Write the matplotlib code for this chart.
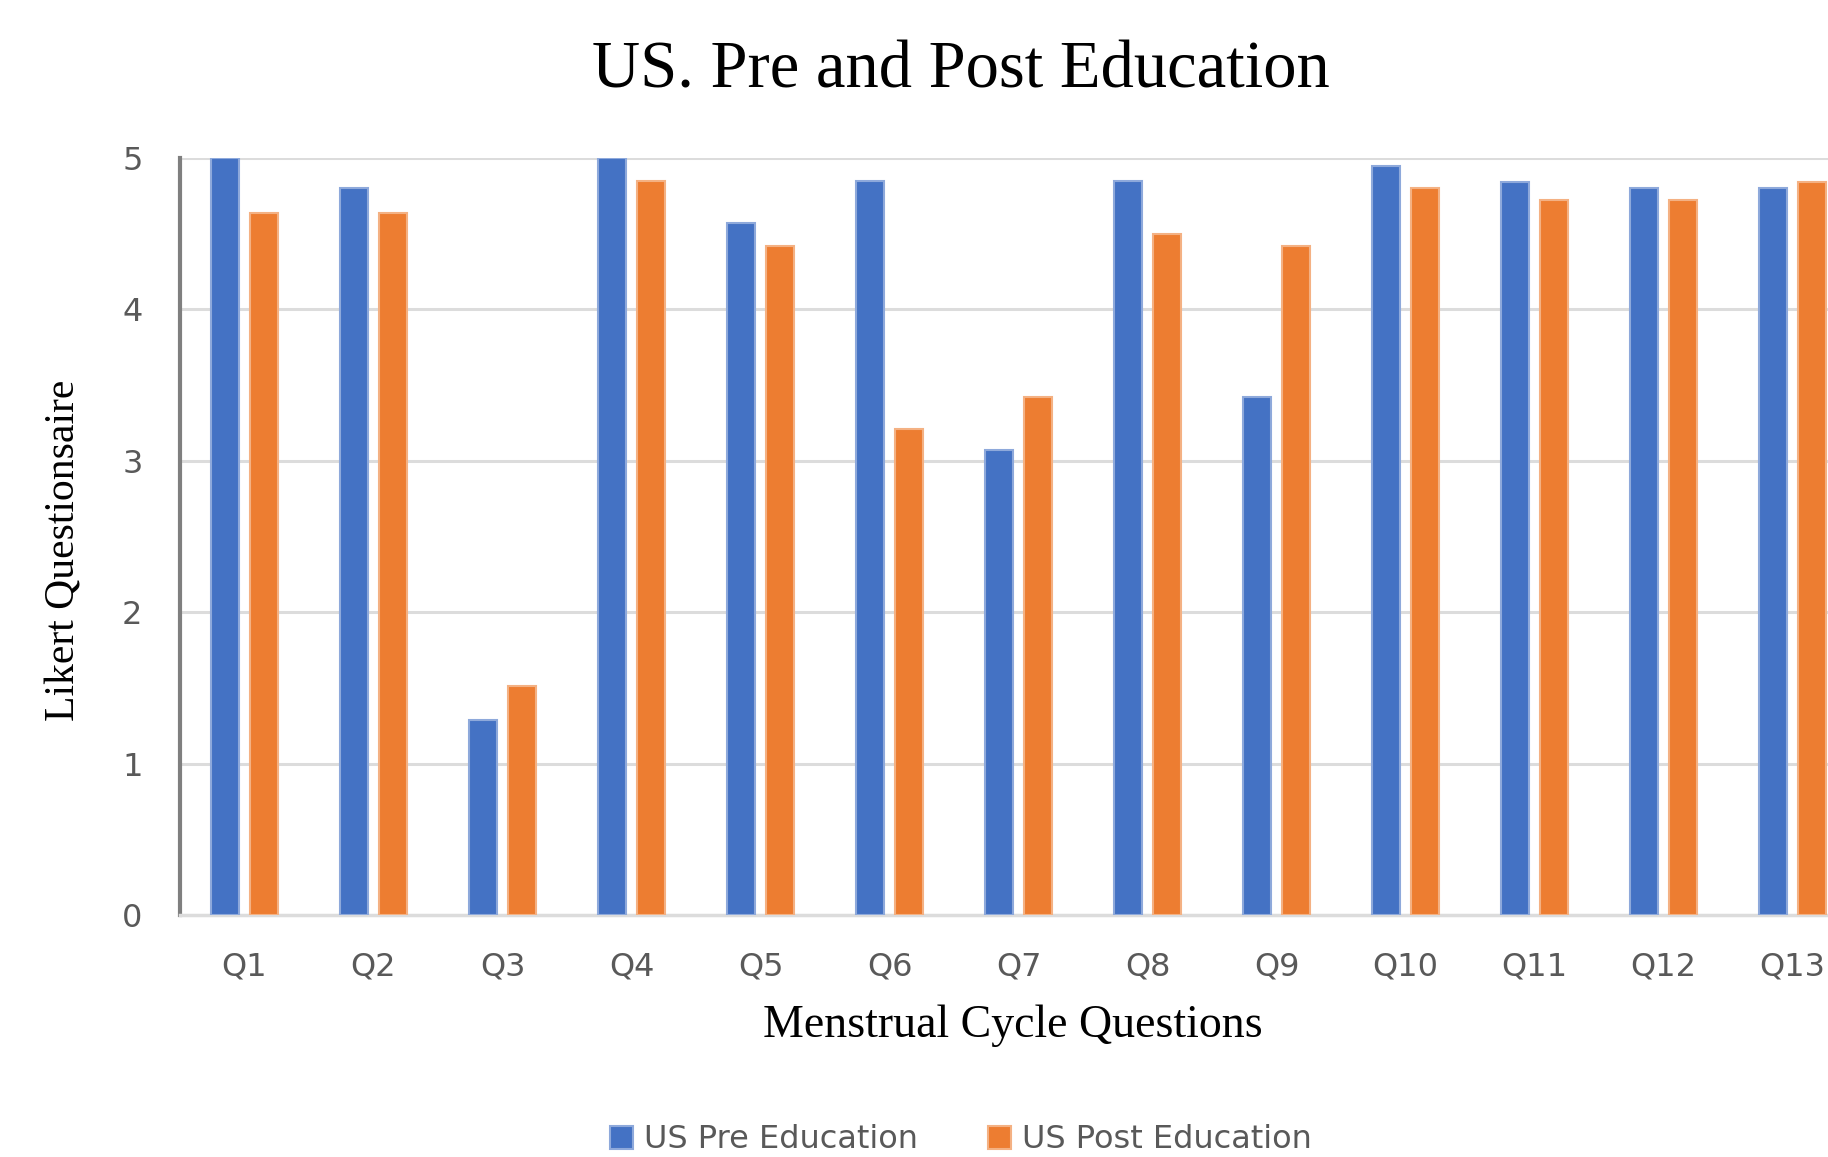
import numpy as np
import matplotlib
matplotlib.use("Agg")
import matplotlib.pyplot as plt

questions = ["Q1", "Q2", "Q3", "Q4", "Q5", "Q6", "Q7", "Q8", "Q9", "Q10", "Q11", "Q12", "Q13"]
pre_edu = [5.0, 4.8, 1.29, 5.0, 4.57, 4.85, 3.07, 4.85, 3.42, 4.95, 4.84, 4.8, 4.8]
post_edu = [4.64, 4.64, 1.51, 4.85, 4.42, 3.21, 3.42, 4.5, 4.42, 4.8, 4.72, 4.72, 4.84]
y_ticks = [0, 1, 2, 3, 4, 5]

blue = "#4472C4"
orange = "#ED7D31"
grey_txt = "#595959"

fig = plt.figure(figsize=(18.28, 11.57), dpi=100)
ax = fig.add_axes([0.0985, 0.2092, 0.9015, 0.6542])

x = np.arange(len(questions))
w = 0.222
off = 0.151
ax.bar(x - off, pre_edu, w, color=blue, edgecolor="#8EA9DB", linewidth=1.5,
       label="US Pre Education", zorder=3)
ax.bar(x + off, post_edu, w, color=orange, edgecolor="#F4B183", linewidth=1.5,
       label="US Post Education", zorder=3)

ax.set_xlim(-0.5, 12.275)
ax.set_ylim(0, 5)
ax.set_yticks(y_ticks)
ax.set_xticks(x)
ax.set_xticklabels(questions)
ax.yaxis.grid(True, color="#DCDCDC", linewidth=2.2)
ax.set_axisbelow(True)
ax.tick_params(length=0, labelsize=23, labelcolor=grey_txt)
ax.tick_params(axis="x", pad=26)
ax.tick_params(axis="y", pad=27)

ax.spines["top"].set_visible(False)
ax.spines["right"].set_visible(False)
ax.spines["left"].set_color("#7F7F7F")
ax.spines["left"].set_linewidth(3)
ax.spines["bottom"].set_color("#DCDCDC")
ax.spines["bottom"].set_linewidth(2.5)

# titles in serif like the original
fig.text(0.5257, 0.9248, "US. Pre and Post Education", family="Liberation Serif",
         fontsize=48, ha="center", va="baseline")
fig.text(0.554, 0.1037, "Menstrual Cycle Questions", family="Liberation Serif",
         fontsize=33, ha="center", va="baseline")
fig.text(0.035, 0.5246, "Likert Questionsaire", family="Liberation Serif",
         fontsize=30, rotation=90, ha="center", va="center")

fig.legend(loc="center", bbox_to_anchor=(0.5257, 0.0147), ncol=2, frameon=False,
           prop={"size": 23}, labelcolor=grey_txt,
           handlelength=0.7, handleheight=0.75, handletextpad=0.35,
           columnspacing=2.2)

fig.savefig("out.png", dpi=100)
